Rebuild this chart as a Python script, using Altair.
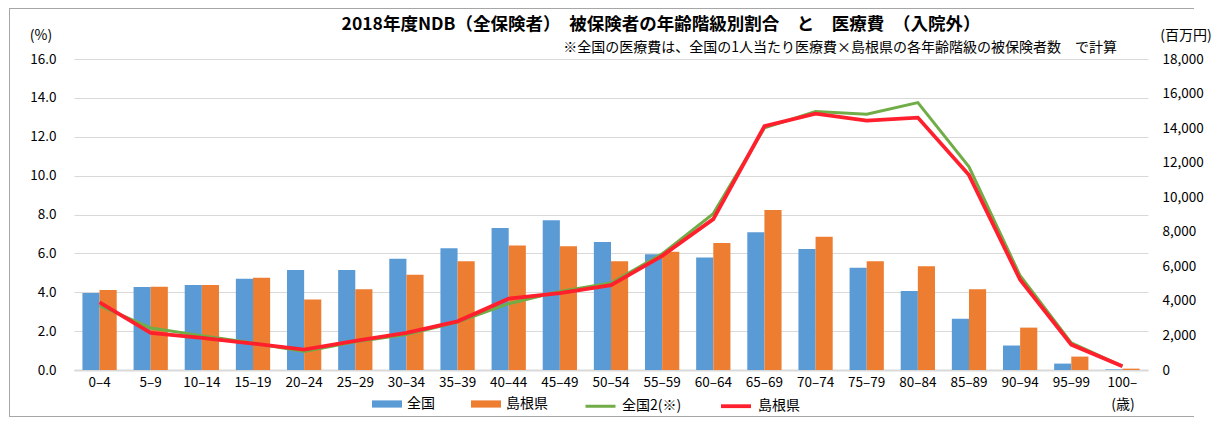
import altair as alt
import pandas as pd

FONT = "Noto Sans CJK JP"

ages = ["0–4", "5–9", "10–14", "15–19", "20–24", "25–29", "30–34", "35–39", "40–44",
        "45–49", "50–54", "55–59", "60–64", "65–69", "70–74", "75–79", "80–84", "85–89",
        "90–94", "95–99", "100–"]

# 被保険者の年齢階級別割合 (%)
zenkoku_pct = [3.96, 4.27, 4.37, 4.69, 5.15, 5.15, 5.72, 6.27, 7.31, 7.70, 6.59,
               5.96, 5.79, 7.09, 6.23, 5.26, 4.06, 2.64, 1.26, 0.33, 0.03]
shimane_pct = [4.11, 4.28, 4.37, 4.74, 3.63, 4.16, 4.90, 5.60, 6.40, 6.37, 5.60,
               6.08, 6.54, 8.23, 6.85, 5.60, 5.34, 4.16, 2.18, 0.69, 0.07]

# 医療費 (百万円)
zenkoku2_cost = [3720, 2435, 1990, 1560, 1067, 1630, 2050, 2780, 3837, 4550, 5031,
                 6722, 9050, 14010, 14955, 14800, 15475, 11760, 5453, 1570, 230]
shimane_cost = [3912, 2146, 1858, 1529, 1183, 1685, 2146, 2816, 4126, 4454, 4916,
                6607, 8730, 14107, 14840, 14436, 14609, 11280, 5222, 1471, 220]

bar_names = ["全国", "島根県"]
bar_colors = ["#5B9BD5", "#ED7D31"]
line_names = ["全国2(※)", "島根県"]
line_colors = ["#70AD47", "#FF1F2D"]

title_text = "2018年度NDB（全保険者）　被保険者の年齢階級別割合　と　医療費　（入院外）"
note_text = "※全国の医療費は、全国の1人当たり医療費×島根県の各年齢階級の被保険者数　で計算"

bar_df = pd.DataFrame({
    "age": ages * 2,
    "bseries": [bar_names[0]] * len(ages) + [bar_names[1]] * len(ages),
    "pct": zenkoku_pct + shimane_pct,
})
line_df = pd.DataFrame({
    "age": ages * 2,
    "lseries": [line_names[0]] * len(ages) + [line_names[1]] * len(ages),
    "cost": zenkoku2_cost + shimane_cost,
})

xscale = alt.Scale(domain=ages, paddingInner=0.33, paddingOuter=0.165)
xaxis = alt.Axis(title=None, labelAngle=0, labelFontSize=13.5, labelColor="#000",
                 labelPadding=5, domainColor="#D9D9D9", domainWidth=2, ticks=False,
                 grid=False, labelFont=FONT)

bars = alt.Chart(bar_df).mark_bar().encode(
    x=alt.X("age:N", scale=xscale, axis=xaxis, sort=ages),
    xOffset=alt.XOffset("bseries:N", sort=bar_names,
                        scale=alt.Scale(domain=bar_names, paddingInner=0, paddingOuter=0)),
    y=alt.Y("pct:Q", scale=alt.Scale(domain=[0, 16]),
            axis=alt.Axis(title=None, values=list(range(0, 17, 2)), format=".1f",
                          ticks=False, domain=False, labelPadding=18, labelFontSize=13.5,
                          labelColor="#000", labelFont=FONT,
                          gridColor="#D9D9D9", gridWidth=1)),
    color=alt.Color("bseries:N", scale=alt.Scale(domain=bar_names, range=bar_colors),
                    legend=alt.Legend(title=None, orient="none", legendX=298, legendY=330,
                                      direction="horizontal",
                                      symbolType="M-1,-0.24H1V0.24H-1Z", symbolSize=900,
                                      symbolStrokeWidth=0, labelFontSize=14,
                                      labelFont=FONT, labelColor="#000",
                                      columnPadding=36, labelOffset=5)),
)

lines = alt.Chart(line_df).mark_line().encode(
    x=alt.X("age:N", scale=xscale, axis=xaxis, sort=ages),
    y=alt.Y("cost:Q", scale=alt.Scale(domain=[0, 18000]),
            axis=alt.Axis(title=None, orient="right", values=list(range(0, 18001, 2000)),
                          format=",d", ticks=False, domain=False, grid=False,
                          labelPadding=14, labelFontSize=13.5, labelColor="#000",
                          labelFont=FONT)),
    stroke=alt.Stroke("lseries:N", scale=alt.Scale(domain=line_names, range=line_colors),
                      sort=line_names,
                      legend=alt.Legend(title=None, orient="none", legendX=510, legendY=330,
                                        direction="horizontal", symbolType="stroke",
                                        symbolSize=900, symbolStrokeWidth=3,
                                        labelFontSize=14, labelFont=FONT,
                                        labelColor="#000", columnPadding=31,
                                        labelOffset=5)),
    strokeWidth=alt.StrokeWidth("lseries:N", scale=alt.Scale(domain=line_names, range=[3, 3.8]),
                                legend=None),
    order=alt.Order("age_idx:Q"),
).transform_calculate(age_idx="indexof(" + str(ages) + ", datum.age)")

one = pd.DataFrame({"k": [0]})
border_col = "#A6A6A6"

border_top = alt.Chart(one).mark_rule(stroke=border_col, strokeWidth=1).encode(
    x=alt.value(-65), x2=alt.value(1120), y=alt.value(-50.5)
)
border_left = alt.Chart(one).mark_rule(stroke=border_col, strokeWidth=1).encode(
    x=alt.value(-64.5), y=alt.value(-50.5), y2=alt.value(357.5)
)
border_bottom = alt.Chart(one).mark_rule(stroke=border_col, strokeWidth=1).encode(
    x=alt.value(-65), x2=alt.value(1120), y=alt.value(357.5)
)

def label(text, x, y, size=13, weight="normal", align="center"):
    return alt.Chart(pd.DataFrame({"t": [text]})).mark_text(
        fontSize=size, fontWeight=weight, align=align, baseline="middle",
        font=FONT, color="#000"
    ).encode(text="t:N", x=alt.value(x), y=alt.value(y))

title = label(title_text, 587, -34, size=17.5, weight="bold")
note = label(note_text, 1043, -11, size=14, align="right")
unit_l = label("(%)", -33, -23, size=14)
unit_r = label("(百万円)", 1112, -23, size=14)
unit_x = label("(歳)", 1049, 346, size=14)

chart = alt.layer(border_top, border_left, border_bottom, bars, lines,
                  title, note, unit_l, unit_r, unit_x).resolve_scale(
    y="independent"
).properties(
    width=1074, height=311,
    autosize=alt.AutoSizeParams(type="none"),
    padding={"left": 66, "top": 51, "right": 65, "bottom": 48},
).configure(font=FONT).configure_view(stroke=None)

chart.save("out.html", embed_options={"renderer": "svg", "actions": False})
